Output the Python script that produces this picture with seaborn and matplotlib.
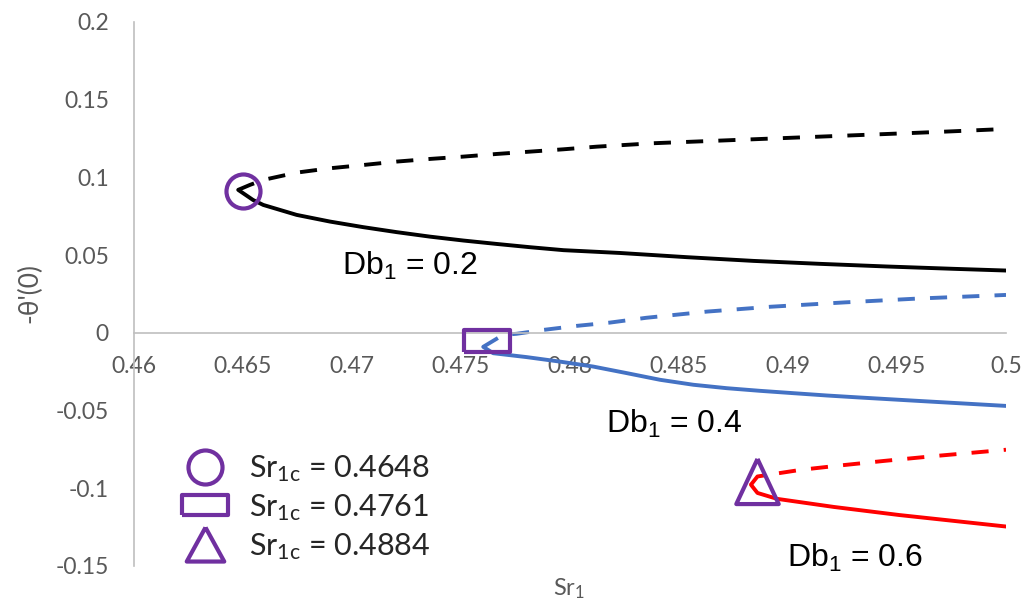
import numpy as np
import pandas as pd
import matplotlib
matplotlib.use("Agg")
import matplotlib.pyplot as plt
from matplotlib.lines import Line2D
import seaborn as sns

# ---- data ----
# Db1 = 0.2 (black)
db02_upper_x = [0.46478, 0.46532, 0.46593, 0.46746, 0.46899, 0.47052, 0.47205, 0.47358,
                0.47511, 0.47664, 0.47817, 0.47970, 0.48123, 0.48382, 0.48688,
                0.48994, 0.49300, 0.49606, 0.49759, 0.50000]
db02_upper_y = [0.0920, 0.0952, 0.0984, 0.1031, 0.1059, 0.1080, 0.1102, 0.1119,
                0.1134, 0.1151, 0.1166, 0.1181, 0.1198, 0.1220, 0.1237,
                0.1254, 0.1271, 0.1288, 0.1297, 0.1312]
db02_lower_x = [0.46478, 0.46546, 0.46593, 0.46746, 0.46899, 0.47052, 0.47205, 0.47358,
                0.47511, 0.47664, 0.47817, 0.47970, 0.48229, 0.48535, 0.48841,
                0.49147, 0.49453, 0.49759, 0.50000]
db02_lower_y = [0.0920, 0.0855, 0.0823, 0.0759, 0.0716, 0.0680, 0.0648, 0.0619,
                0.0594, 0.0572, 0.0551, 0.0532, 0.0514, 0.0487, 0.0463,
                0.0444, 0.0427, 0.0412, 0.0401]
# Db1 = 0.4 (blue)
db04_upper_x = [0.47602, 0.47693, 0.47755, 0.47878, 0.48031, 0.48183, 0.48350,
                0.48630, 0.48920, 0.49260, 0.49600, 0.50000]
db04_upper_y = [-0.0090, -0.0013, -0.0006, 0.0019, 0.0045, 0.0066, 0.0097,
                0.0137, 0.0168, 0.0196, 0.0221, 0.0244]
db04_lower_x = [0.47602, 0.47648, 0.47801, 0.47954, 0.48107, 0.48260, 0.48413, 0.48566,
                0.48719, 0.48872, 0.49024, 0.49178, 0.49330, 0.49600, 0.50000]
db04_lower_y = [-0.0090, -0.0131, -0.0156, -0.0185, -0.0217, -0.0259, -0.0302, -0.0334,
                -0.0356, -0.0373, -0.0388, -0.0403, -0.0416, -0.0438, -0.0470]
# Db1 = 0.6 (red)
db06_upper_x = [0.48830, 0.48860, 0.49060, 0.49240, 0.49440, 0.49670, 0.50000]
db06_upper_y = [-0.0977, -0.0924, -0.0881, -0.0853, -0.0824, -0.0793, -0.0752]
db06_lower_x = [0.48830, 0.48860, 0.48950, 0.49210, 0.49510, 0.50000]
db06_lower_y = [-0.0977, -0.1030, -0.1068, -0.1120, -0.1172, -0.1246]

# critical points (marker positions)
crit_x = [0.4650, 0.4762, 0.4886]
crit_y = [0.0915, -0.0055, -0.0952]
crit_labels = ["Sr$_{1c}$ = 0.4648", "Sr$_{1c}$ = 0.4761", "Sr$_{1c}$ = 0.4884"]

db_labels = ["Db$_1$ = 0.2", "Db$_1$ = 0.4", "Db$_1$ = 0.6"]
db_label_x = [0.47266, 0.48477, 0.49307]
db_label_y = [0.0373, -0.0643, -0.1505]

x_ticks = [0.46, 0.465, 0.47, 0.475, 0.48, 0.485, 0.49, 0.495, 0.5]
x_tick_labels = ["0.46", "0.465", "0.47", "0.475", "0.48", "0.485", "0.49", "0.495", "0.5"]
y_ticks = [-0.15, -0.1, -0.05, 0, 0.05, 0.1, 0.15, 0.2]
y_tick_labels = ["-0.15", "-0.1", "-0.05", "0", "0.05", "0.1", "0.15", "0.2"]

# ---- style ----
sns.set_style("white")
plt.rcParams["font.family"] = ["Lato", "DejaVu Sans"]
plt.rcParams["mathtext.default"] = "regular"

GRAY = "#595959"
SPINE = "#BFBFBF"
PURPLE = "#7030A0"
BLACK = "#000000"
BLUE = "#4472C4"
RED = "#FF0000"
LW = 2.8
DASH = (0, (4.4, 3.9))

fig = plt.figure(figsize=(10.24, 6.05), dpi=100)
ax = fig.add_axes([134 / 1024, 1 - 566 / 605, 872 / 1024, 544 / 605])

series = [
    (db02_upper_x, db02_upper_y, BLACK, DASH),
    (db02_lower_x, db02_lower_y, BLACK, "-"),
    (db04_upper_x, db04_upper_y, BLUE, DASH),
    (db04_lower_x, db04_lower_y, BLUE, "-"),
    (db06_upper_x, db06_upper_y, RED, DASH),
    (db06_lower_x, db06_lower_y, RED, "-"),
]
for xs, ys, col, ls in series:
    df = pd.DataFrame({"x": xs, "y": ys})
    sns.lineplot(data=df, x="x", y="y", sort=False, estimator=None, color=col,
                 linewidth=LW, linestyle=ls, ax=ax, solid_capstyle="round",
                 solid_joinstyle="round", dash_capstyle="butt")

# markers
rect_marker = [(-1, -0.46), (1, -0.46), (1, 0.46), (-1, 0.46), (-1, -0.46)]
tri_marker = [(0, 1), (-0.94, -1), (0.94, -1), (0, 1)]
marker_specs = [("o", 24.5), (rect_marker, 33.5), (tri_marker, 32.5)]
for (mk, ms), cx, cy in zip(marker_specs, crit_x, crit_y):
    ax.plot([cx], [cy], linestyle="none", marker=mk, markersize=ms,
            markerfacecolor="none", markeredgecolor=PURPLE, markeredgewidth=3.0,
            zorder=5)

# Db labels
for lab, lx, ly in zip(db_labels, db_label_x, db_label_y):
    ax.text(lx, ly, lab, ha="center", va="baseline", fontsize=23,
            family=["Liberation Sans", "DejaVu Sans"], color="black", clip_on=False)

# legend
tri_leg = [(0, 1), (-1.1, -1), (1.1, -1), (0, 1)]
handles = [
    Line2D([], [], linestyle="none", marker="o", markersize=24.5,
           markerfacecolor="none", markeredgecolor=PURPLE, markeredgewidth=3.0),
    Line2D([], [], linestyle="none", marker=rect_marker, markersize=32.5,
           markerfacecolor="none", markeredgecolor=PURPLE, markeredgewidth=3.0),
    Line2D([], [], linestyle="none", marker=tri_leg, markersize=27,
           markerfacecolor="none", markeredgecolor=PURPLE, markeredgewidth=3.0),
]
leg = ax.legend(handles, crit_labels, loc="upper left", frameon=False,
                bbox_to_anchor=(0.036, 0.235), fontsize=22, labelspacing=0.26,
                handletextpad=0.65, handlelength=1.6, borderpad=0,
                labelcolor="#262626")

ax.set_xlim(0.46, 0.5)
ax.set_ylim(-0.15, 0.2)
ax.set_xticks(x_ticks)
ax.set_xticklabels(x_tick_labels)
ax.set_yticks(y_ticks)
ax.set_yticklabels(y_tick_labels)
ax.tick_params(axis="both", length=0, labelsize=16.5, labelcolor=GRAY)
ax.tick_params(axis="x", pad=17)
ax.tick_params(axis="y", pad=18)

for s in ["top", "right"]:
    ax.spines[s].set_visible(False)
ax.spines["left"].set_color(SPINE)
ax.spines["left"].set_linewidth(1.2)
ax.spines["bottom"].set_color(SPINE)
ax.spines["bottom"].set_linewidth(1.2)
ax.spines["bottom"].set_position(("data", 0))

ax.set_xlabel("Sr$_1$", fontsize=17, color=GRAY)
ax.set_ylabel("-θ'(0)", fontsize=19, color=GRAY)
ax.xaxis.set_label_coords(0.499, -0.02)
ax.yaxis.set_label_coords(-0.105, 0.502)
ax.grid(False)

fig.savefig("out.png", dpi=100)
